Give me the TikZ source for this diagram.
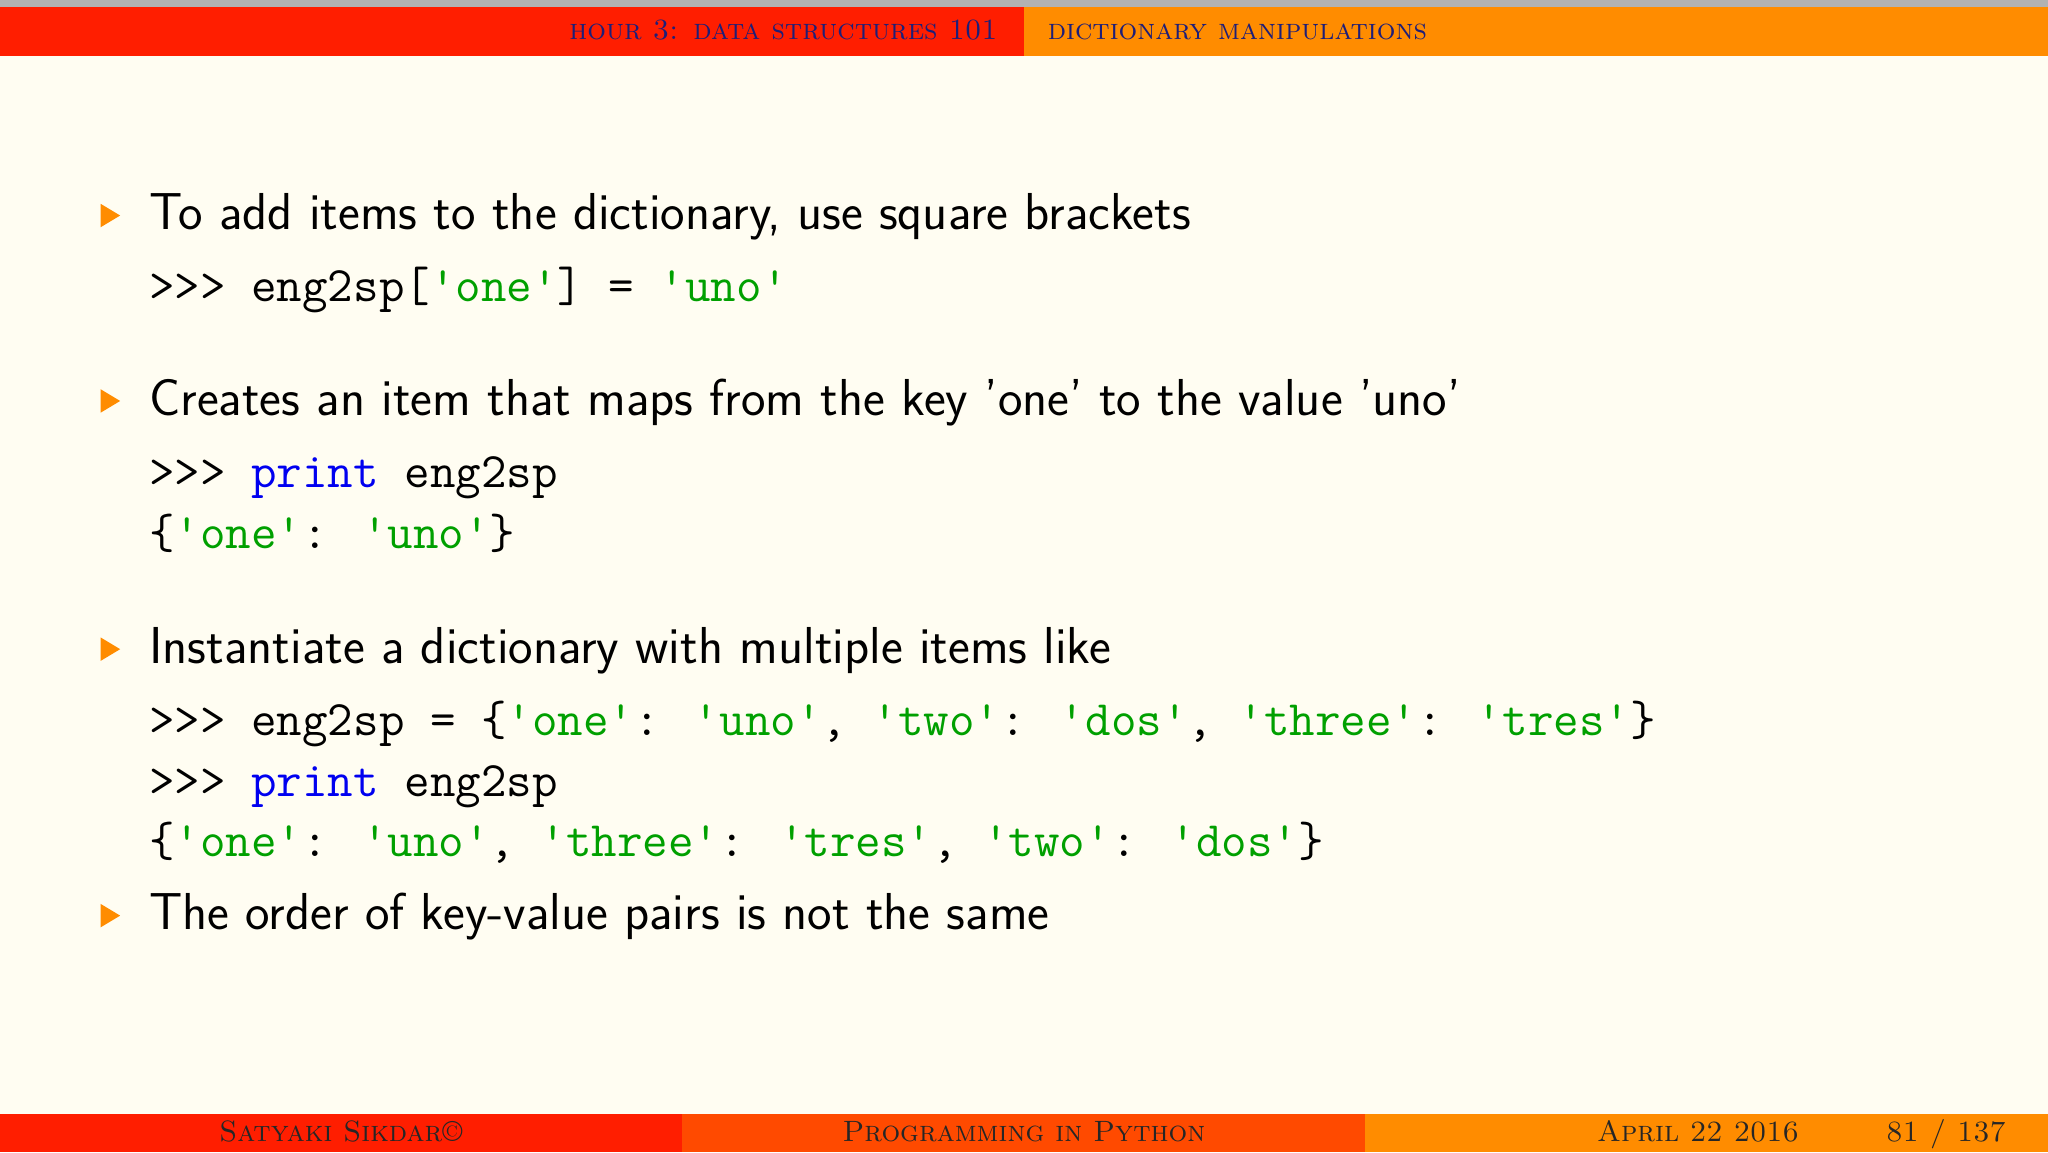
\documentclass[tikz,border=0pt]{standalone}
\usepackage{fontspec}
\definecolor{bg}{HTML}{FFFDF2}
\definecolor{hred}{HTML}{FF1E00}
\definecolor{horange}{HTML}{FF8C00}
\definecolor{fmid}{HTML}{FF4A00}
\definecolor{htext}{HTML}{1E1E78}
\definecolor{strg}{HTML}{00A000}
\definecolor{kw}{HTML}{0000F0}
\newcommand{\sq}[1]{\textcolor{strg}{'#1'}}
\newcommand{\kwd}[1]{\textcolor{kw}{#1}}
\tikzset{
  body/.style={anchor=base west,font=\fontsize{28.3}{32}\selectfont\sffamily,inner sep=0},
  code/.style={anchor=base west,font=\fontsize{27}{30}\selectfont\ttfamily,inner sep=0},
  bul/.style={fill=horange,draw=none},
  head/.style={inner sep=0,font=\fontsize{16}{18}\selectfont\scshape,text=htext},
  foot/.style={inner sep=0,font=\fontsize{16}{18}\selectfont\scshape,text=black!85}
}
\begin{document}
\begin{tikzpicture}[x=0.25mm,y=-0.25mm]
\useasboundingbox (0,0) rectangle (1568,882);
\fill[bg] (0,0) rectangle (1568,882);
\fill[gray!60] (0,0) rectangle (1568,5);
\fill[hred] (0,5) rectangle (784,43);
\fill[horange] (784,5) rectangle (1568,43);
\node[head,anchor=base east] (h1) at (764,30) {hour 3: data structures 101};
\node[head,anchor=base west] (h2) at (802,30) {dictionary manipulations};
\fill[hred] (0,853) rectangle (522,882);
\fill[fmid] (522,853) rectangle (1045,882);
\fill[horange] (1045,853) rectangle (1568,882);
\node[foot,anchor=base] (f1) at (261,874) {Satyaki Sikdar\textcopyright};
\node[foot,anchor=base] (f2) at (784,874) {Programming in Python};
\node[foot,anchor=base] (f3) at (1300,874) {April 22 2016};
\node[foot,anchor=base] (f4) at (1490,874) {81 / 137};
\foreach \y in {165,307,497,701}
  \fill[bul] (77,\y-9) -- (92,\y) -- (77,\y+9) -- cycle;
\node[body] (t1) at (114,176) {To add items to the dictionary, use square brackets};
\node[code] (c1) at (114,231) {>>> eng2sp[\sq{one}] = \sq{uno}};
\node[body] (t2) at (114,318) {Creates an item that maps from the key 'one' to the value 'uno'};
\node[code] (c2) at (114,373) {>>> \kwd{print} eng2sp};
\node[code] (c3) at (114,420) {\{\sq{one}: \sq{uno}\}};
\node[body] (t3) at (114,508) {Instantiate a dictionary with multiple items like};
\node[code] (c4) at (114,563) {>>> eng2sp = \{\sq{one}: \sq{uno}, \sq{two}: \sq{dos}, \sq{three}: \sq{tres}\}};
\node[code] (c5) at (114,610) {>>> \kwd{print} eng2sp};
\node[code] (c6) at (114,656) {\{\sq{one}: \sq{uno}, \sq{three}: \sq{tres}, \sq{two}: \sq{dos}\}};
\node[body] (t4) at (114,712) {The order of key-value pairs is not the same};
\end{tikzpicture}
\end{document}
